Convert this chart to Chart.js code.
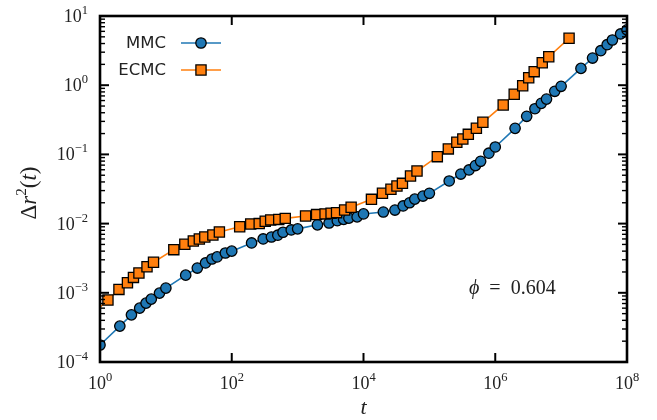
<!DOCTYPE html>
<html>
<head>
<meta charset="utf-8">
<script src="https://cdn.jsdelivr.net/npm/chart.js@4.4.0/dist/chart.umd.min.js"></script>
<style>
  html, body { margin: 0; padding: 0; background: #fff; }
</style>
</head>
<body>
<canvas id="msdChart" width="657" height="420"></canvas>
<script>
// sampling times and mean squared displacement
const mmcTimes = [
  1, 2, 3, 4, 5, 6, 8,
  10, 20, 30, 40, 50, 60, 80,
  1e2, 2e2, 3e2, 4e2, 5e2, 6e2, 8e2,
  1e3, 2e3, 3e3, 4e3, 5e3, 6e3, 8e3,
  1e4, 2e4, 3e4, 4e4, 5e4, 6e4, 8e4,
  1e5, 2e5, 3e5, 4e5, 5e5, 6e5, 8e5,
  1e6, 2e6, 3e6, 4e6, 5e6, 6e6, 8e6,
  1e7, 2e7, 3e7, 4e7, 5e7, 6e7, 8e7,
  1e8
];
const mmcMsd = [
  1.76e-4, 3.3e-4, 4.8e-4, 6.0e-4, 7.1e-4, 8.1e-4, 9.9e-4,
  1.17e-3, 1.8e-3, 2.28e-3, 2.7e-3, 3.08e-3, 3.3e-3, 3.76e-3,
  4.0e-3, 5.25e-3, 6.0e-3, 6.4e-3, 6.8e-3, 7.5e-3, 8.1e-3,
  8.4e-3, 9.6e-3, 1.02e-2, 1.1e-2, 1.15e-2, 1.2e-2, 1.25e-2,
  1.38e-2, 1.47e-2, 1.57e-2, 1.8e-2, 2.0e-2, 2.26e-2, 2.5e-2,
  2.74e-2, 4.13e-2, 5.2e-2, 5.96e-2, 6.9e-2, 7.95e-2, 0.104,
  0.128, 0.238, 0.355, 0.457, 0.547, 0.63, 0.816,
  0.964, 1.75, 2.47, 3.15, 3.85, 4.5, 5.5,
  6.3
];

const ecmcTimes = [
  0.65,
  1.32, 1.94, 2.61, 3.22, 3.9, 5.17, 6.49,
  13.2, 19.4, 26.1, 32.2, 39, 51.7, 64.9,
  132, 194, 261, 322, 390, 517, 649,
  1320, 1940, 2610, 3220, 3900, 5170, 6490,
  13200, 19400, 26100, 32200, 39000, 51700, 64900,
  1.32e5, 1.94e5, 2.61e5, 3.22e5, 3.9e5, 5.17e5, 6.49e5,
  1.32e6, 1.94e6, 2.61e6, 3.22e6, 3.9e6, 5.17e6, 6.49e6,
  1.32e7
];
const ecmcMsd = [
  4.3e-4,
  7.87e-4, 1.12e-3, 1.40e-3, 1.67e-3, 1.93e-3, 2.38e-3, 2.76e-3,
  4.2e-3, 5.02e-3, 5.61e-3, 5.99e-3, 6.4e-3, 6.84e-3, 7.57e-3,
  9.0e-3, 9.86e-3, 1.0e-2, 1.08e-2, 1.13e-2, 1.15e-2, 1.19e-2,
  1.29e-2, 1.35e-2, 1.38e-2, 1.41e-2, 1.44e-2, 1.57e-2, 1.72e-2,
  2.24e-2, 2.74e-2, 3.13e-2, 3.49e-2, 3.82e-2, 4.88e-2, 5.75e-2,
  9.27e-2, 0.12, 0.15, 0.167, 0.195, 0.239, 0.291,
  0.518, 0.74, 0.984, 1.28, 1.57, 2.11, 2.58,
  4.76
];

const xTickExps = [0, 2, 4, 6, 8];
const yTickExps = [-4, -3, -2, -1, 0, 1];
const seriesNames = ["MMC", "ECMC"];
const phiValue = "0.604";

const blue = "#1f77b4";
const orange = "#ff7f0e";
const serif = '"Liberation Serif", "DejaVu Serif", serif';

function toPoints(xs, ys) {
  return xs.map((t, i) => ({ x: t, y: ys[i] }));
}

// draw a run of text pieces [text, font, raise] starting at x
function drawRuns(ctx, runs, x, y) {
  let cx = x;
  for (const [txt, font, raise] of runs) {
    ctx.font = font;
    ctx.fillText(txt, cx, y - (raise || 0));
    cx += ctx.measureText(txt).width;
  }
  return cx - x;
}
function runsWidth(ctx, runs) {
  let w = 0;
  for (const [txt, font] of runs) { ctx.font = font; w += ctx.measureText(txt).width; }
  return w;
}
function powRuns(e) {
  const s = String(e).replace("-", "\u2212");
  return [["10", "18px " + serif, 0], [s, "12.5px " + serif, 8]];
}

const frame = {
  id: "frame",
  afterDraw(chart) {
    const { ctx, chartArea: a, scales } = chart;
    const x = scales.x, y = scales.y;
    ctx.save();
    ctx.strokeStyle = "#000";
    ctx.fillStyle = "#000";
    ctx.lineCap = "butt";

    const seg = (x1, y1, x2, y2) => {
      ctx.beginPath(); ctx.moveTo(x1, y1); ctx.lineTo(x2, y2); ctx.stroke();
    };

    // inward ticks, all four sides
    ctx.lineWidth = 2;
    xTickExps.forEach(e => {
      const px = x.getPixelForValue(Math.pow(10, e));
      seg(px, a.bottom, px, a.bottom - 9);
      seg(px, a.top, px, a.top + 9);
    });
    yTickExps.forEach(e => {
      const py = y.getPixelForValue(Math.pow(10, e));
      ctx.lineWidth = 2;
      seg(a.left, py, a.left + 9, py);
      seg(a.right, py, a.right - 9, py);
      if (e < 1) {
        ctx.lineWidth = 1.4;
        for (let m = 2; m <= 9; m++) {
          const pm = y.getPixelForValue(m * Math.pow(10, e));
          seg(a.left, pm, a.left + 5, pm);
          seg(a.right, pm, a.right - 5, pm);
        }
      }
    });

    // spines
    ctx.lineWidth = 2.6;
    ctx.strokeRect(a.left, a.top, a.right - a.left, a.bottom - a.top);

    // tick labels
    ctx.fillStyle = "#222";
    ctx.textBaseline = "alphabetic";
    ctx.textAlign = "left";
    xTickExps.forEach(e => {
      const px = x.getPixelForValue(Math.pow(10, e));
      const runs = powRuns(e);
      const w = runsWidth(ctx, runs);
      drawRuns(ctx, runs, px - w / 2, 389);
    });
    yTickExps.forEach(e => {
      const py = y.getPixelForValue(Math.pow(10, e));
      const runs = powRuns(e);
      const w = runsWidth(ctx, runs);
      drawRuns(ctx, runs, 88 - w, py + 6);
    });

    // axis titles
    const xt = [["t", "italic 22px " + serif, 0]];
    drawRuns(ctx, xt, (a.left + a.right) / 2 - runsWidth(ctx, xt) / 2, 414);

    const yt = [
      ["\u0394", "23px " + serif, 0],
      ["r", "italic 23px " + serif, 0],
      ["2", "15px " + serif, 10],
      ["(", "23px " + serif, 0],
      ["t", "italic 23px " + serif, 0],
      [")", "23px " + serif, 0]
    ];
    ctx.save();
    ctx.translate(36, 193);
    ctx.rotate(-Math.PI / 2);
    drawRuns(ctx, yt, -runsWidth(ctx, yt) / 2, 0);
    ctx.restore();

    // annotation
    drawRuns(ctx, [
      ["\u03d5", "italic 20px " + serif, 0],
      ["  =  ", "20px " + serif, 0],
      [phiValue, "20px " + serif, 0]
    ], 469, 294);

    // legend: text first, then line with marker
    const entries = [
      { name: seriesNames[0], color: blue, style: "circle", r: 5.2, yy: 43 },
      { name: seriesNames[1], color: orange, style: "rect", r: 7.2, yy: 70 }
    ];
    entries.forEach(en => {
      ctx.font = '16.5px "DejaVu Sans", sans-serif';
      ctx.fillStyle = "#222";
      ctx.textAlign = "right";
      ctx.textBaseline = "middle";
      ctx.fillText(en.name, 166, en.yy + 1);
      ctx.strokeStyle = en.color;
      ctx.lineWidth = 1.6;
      seg(181, en.yy, 221, en.yy);
      ctx.fillStyle = en.color;
      ctx.strokeStyle = "#000";
      ctx.lineWidth = 1.3;
      Chart.helpers.drawPoint(ctx, { pointStyle: en.style, radius: en.r, rotation: 0, borderWidth: 1.3 }, 201, en.yy);
    });
    ctx.restore();
  }
};

new Chart(document.getElementById("msdChart"), {
  type: "line",
  data: {
    datasets: [
      {
        label: seriesNames[0],
        data: toPoints(mmcTimes, mmcMsd),
        borderColor: blue,
        backgroundColor: blue,
        borderWidth: 1.6,
        pointStyle: "circle",
        pointRadius: 5.2,
        pointBackgroundColor: blue,
        pointBorderColor: "#000",
        pointBorderWidth: 1.3,
        tension: 0,
        clip: 0,
        order: 1
      },
      {
        label: seriesNames[1],
        data: toPoints(ecmcTimes, ecmcMsd),
        borderColor: orange,
        backgroundColor: orange,
        borderWidth: 1.6,
        pointStyle: "rect",
        pointRadius: 7.2,
        pointBackgroundColor: orange,
        pointBorderColor: "#000",
        pointBorderWidth: 1.3,
        tension: 0,
        clip: 0,
        order: 0
      }
    ]
  },
  options: {
    responsive: false,
    animation: false,
    devicePixelRatio: 1,
    layout: { padding: { left: 100, right: 30, top: 16, bottom: 58 } },
    plugins: { legend: { display: false }, tooltip: { enabled: false } },
    scales: {
      x: { type: "logarithmic", min: 1, max: 1e8, display: false },
      y: { type: "logarithmic", min: 1e-4, max: 10, display: false }
    }
  },
  plugins: [frame]
});
</script>
</body>
</html>
